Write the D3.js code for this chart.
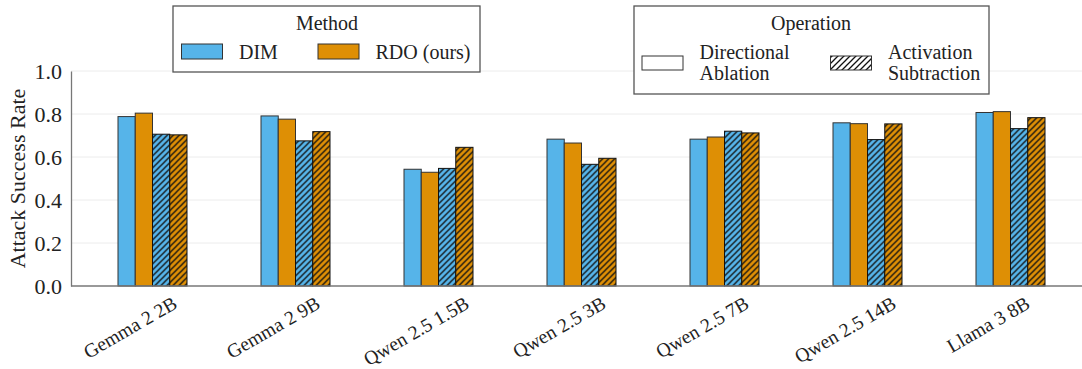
<!DOCTYPE html>
<html>
<head>
<meta charset="utf-8">
<script src="https://cdn.jsdelivr.net/npm/d3@7"></script>
</head>
<body style="margin:0;background:#fff">
<svg width="1082" height="369"></svg>
<script>
// data
const models = ["Gemma 2 2B", "Gemma 2 9B", "Qwen 2.5 1.5B", "Qwen 2.5 3B", "Qwen 2.5 7B", "Qwen 2.5 14B", "Llama 3 8B"];
const dimAblation = [0.788, 0.791, 0.543, 0.683, 0.683, 0.759, 0.807];
const rdoAblation = [0.804, 0.776, 0.529, 0.665, 0.693, 0.755, 0.811];
const dimSubtraction = [0.706, 0.675, 0.547, 0.566, 0.720, 0.681, 0.732];
const rdoSubtraction = [0.703, 0.718, 0.645, 0.594, 0.712, 0.754, 0.783];
const yTicks = [0, 0.2, 0.4, 0.6, 0.8, 1.0];

const seriesKeys = ["dimA", "rdoA", "dimS", "rdoS"];
const seriesInfo = {
    dimA: {color: "#56B4E9", hatch: false, values: dimAblation},
    rdoA: {color: "#DE8F05", hatch: false, values: rdoAblation},
    dimS: {color: "#56B4E9", hatch: true, values: dimSubtraction},
    rdoS: {color: "#DE8F05", hatch: true, values: rdoSubtraction}
};

const FONT = "Liberation Serif";
const plotLeft = 71, plotRight = 1082, plotTop = 71, plotBottom = 286;

const svg = d3.select("svg");
const defs = svg.append("defs");

// hatch pattern (///)
function addHatch(id, bg) {
    const p = defs.append("pattern")
        .attr("id", id)
        .attr("patternUnits", "userSpaceOnUse")
        .attr("width", 6)
        .attr("height", 6);
    p.append("rect").attr("width", 6).attr("height", 6).attr("fill", bg);
    p.append("path")
        .attr("d", "M-1,1 l2,-2 M0,6 l6,-6 M5,7 l2,-2")
        .attr("stroke", "#111")
        .attr("stroke-width", 1.3);
}
addHatch("hatch-blue", "#56B4E9");
addHatch("hatch-orange", "#DE8F05");
addHatch("hatch-white", "#fff");

const x0 = d3.scaleBand()
    .domain(models)
    .range([81, plotRight]);

const x1 = d3.scaleBand()
    .domain(seriesKeys)
    .range([-34.5, 34.5]);

const y = d3.scaleLinear()
    .domain([0, 1])
    .range([plotBottom, plotTop]);

// gridlines
svg.append("g")
    .selectAll("line")
    .data(yTicks.slice(1))
    .enter()
    .append("line")
    .attr("x1", plotLeft)
    .attr("x2", plotRight)
    .attr("y1", d => y(d))
    .attr("y2", d => y(d))
    .attr("stroke", "#ececec")
    .attr("stroke-width", 1);

// bars
const groups = svg.append("g")
    .selectAll("g")
    .data(models)
    .enter()
    .append("g")
    .attr("transform", d => `translate(${x0(d) + x0.bandwidth() / 2},0)`);

groups.selectAll("rect")
    .data((m, i) => seriesKeys.map(k => ({key: k, value: seriesInfo[k].values[i]})))
    .enter()
    .append("rect")
    .attr("x", d => x1(d.key))
    .attr("y", d => y(d.value))
    .attr("width", x1.bandwidth())
    .attr("height", d => y(0) - y(d.value))
    .attr("fill", d => {
        const s = seriesInfo[d.key];
        if (!s.hatch) return s.color;
        return s.color === "#56B4E9" ? "url(#hatch-blue)" : "url(#hatch-orange)";
    })
    .attr("stroke", d => seriesInfo[d.key].hatch ? "#111" : "#333")
    .attr("stroke-width", 1);

// axes
const yAxis = svg.append("g")
    .attr("transform", `translate(${plotLeft},0)`)
    .call(d3.axisLeft(y).tickValues(yTicks).tickFormat(d3.format(".1f")).tickSize(0).tickPadding(9));
yAxis.select(".domain").attr("stroke", "#777").attr("stroke-width", 1.3);
yAxis.selectAll("text").attr("fill", "#222").attr("dy", "0.34em").attr("font-size", 22);

const xAxis = svg.append("g")
    .attr("transform", `translate(0,${plotBottom})`)
    .call(d3.axisBottom(x0).tickSize(0).tickFormat(""));
xAxis.select(".domain").attr("d", `M${plotLeft},0H${plotRight}`).attr("stroke", "#777").attr("stroke-width", 1.3);

// rotated model labels: centred a bit left of the tick, tops level
const angle = 30, rad = angle * Math.PI / 180;
const labelSize = 19.5;
svg.append("g")
    .selectAll("text")
    .data(models)
    .enter()
    .append("text")
    .attr("text-anchor", "middle")
    .attr("font-size", labelSize)
    .attr("font-family", FONT)
    .attr("fill", "#222")
    .text(d => d)
    .each(function(d) {
        const L = this.getComputedTextLength();
        const px = x0(d) + x0.bandwidth() / 2 - 19;
        const py = 296 + L / 2 * Math.sin(rad) + 0.66 * labelSize * Math.cos(rad);
        d3.select(this).attr("transform", `translate(${px},${py}) rotate(${-angle})`);
    });

// y label
svg.append("text")
    .attr("transform", `translate(25,${(plotTop + plotBottom) / 2}) rotate(-90)`)
    .attr("text-anchor", "middle")
    .attr("font-size", 22)
    .attr("fill", "#222")
    .text("Attack Success Rate");

// ======= LEGEND: Method =======
const methodLegend = svg.append("g");
methodLegend.append("rect")
    .attr("x", 173).attr("y", 6).attr("width", 307).attr("height", 66)
    .attr("fill", "#fff").attr("stroke", "#555").attr("stroke-width", 1.3);
methodLegend.append("text")
    .attr("x", 327).attr("y", 30).attr("text-anchor", "middle")
    .text("Method");
const methodItems = [
    {label: "DIM", color: "#56B4E9", x: 181.5},
    {label: "RDO (ours)", color: "#DE8F05", x: 318}
];
methodLegend.selectAll(".sw")
    .data(methodItems)
    .enter()
    .append("rect")
    .attr("x", d => d.x).attr("y", 44).attr("width", 41).attr("height", 15)
    .attr("fill", d => d.color).attr("stroke", "#333").attr("stroke-width", 1);
methodLegend.selectAll(".lbl")
    .data(methodItems)
    .enter()
    .append("text")
    .attr("x", d => d.x + 57.5).attr("y", 59)
    .text(d => d.label);

// ======= LEGEND: Operation =======
const opLegend = svg.append("g");
opLegend.append("rect")
    .attr("x", 634).attr("y", 6).attr("width", 355).attr("height", 88)
    .attr("fill", "#fff").attr("stroke", "#555").attr("stroke-width", 1.3);
opLegend.append("text")
    .attr("x", 811).attr("y", 30).attr("text-anchor", "middle")
    .text("Operation");
const opItems = [
    {lines: ["Directional", "Ablation"], fill: "#fff", x: 642},
    {lines: ["Activation", "Subtraction"], fill: "url(#hatch-white)", x: 830.5}
];
opItems.forEach(item => {
    opLegend.append("rect")
        .attr("x", item.x).attr("y", 56).attr("width", 41).attr("height", 14)
        .attr("fill", item.fill).attr("stroke", "#333").attr("stroke-width", 1);
    const t = opLegend.append("text")
        .attr("x", item.x + 57.5).attr("y", 58.5);
    item.lines.forEach((ln, i) => {
        t.append("tspan").attr("x", item.x + 57.5).attr("dy", i === 0 ? 0 : 21).text(ln);
    });
});
methodLegend.selectAll("text").attr("font-size", 20).attr("fill", "#222");
opLegend.selectAll("text").attr("font-size", 20).attr("fill", "#222");

// serif on every text element
svg.selectAll("text").attr("font-family", FONT).style("font-family", FONT);
</script>
</body>
</html>
